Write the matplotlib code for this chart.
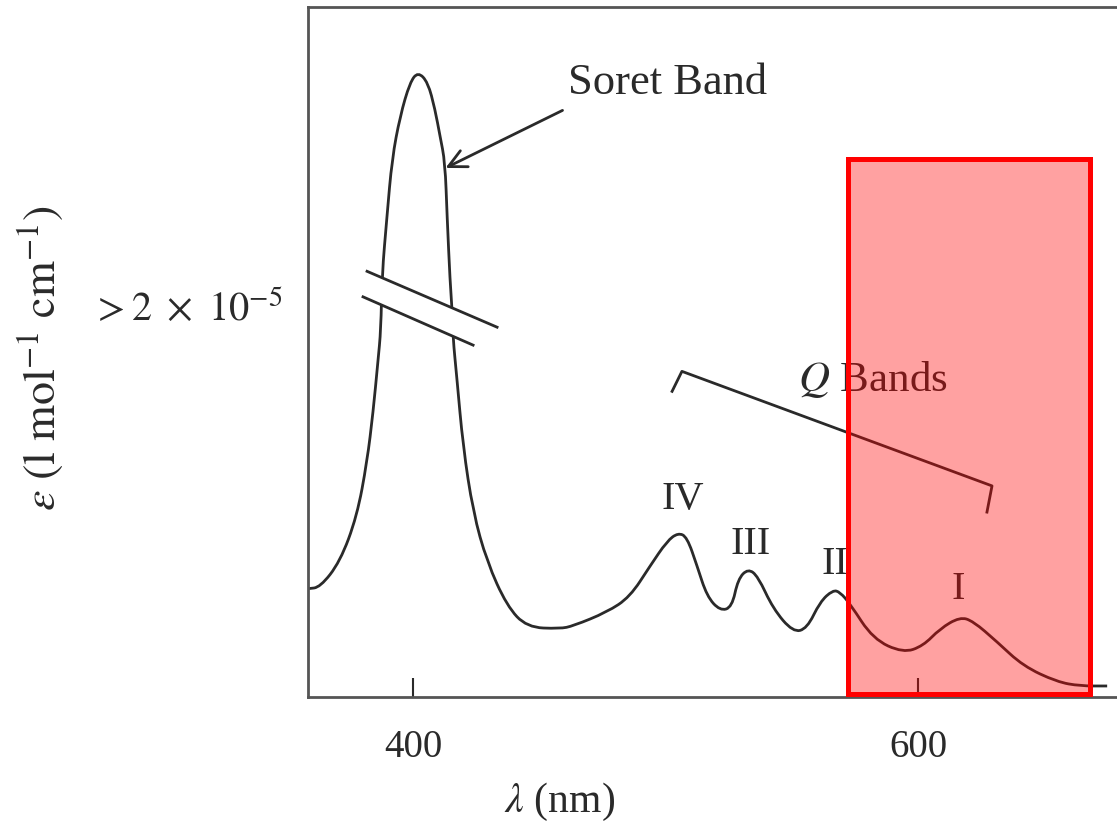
import numpy as np
import matplotlib.pyplot as plt
from matplotlib.patches import Rectangle, Polygon, PathPatch
from matplotlib.path import Path

plt.rcParams['font.family'] = ['Liberation Serif', 'DejaVu Serif']
plt.rcParams['mathtext.fontset'] = 'stix'

# spectre (lambda en nm, epsilon en unites arbitraires)
lam = [358.4, 363.2, 371.1, 377.8, 381.8, 384.2, 386.1, 387.3, 387.7, 389.7,
       391.7, 394.9, 398.8, 402.0, 405.9, 408.7, 410.7, 412.7, 413.5, 414.7,
       415.4, 415.8, 417.4, 419.8, 423.8, 429.3, 437.2, 445.1, 458.2, 463.4,
       476.8, 485.9, 493.9, 500.6, 505.0, 508.5, 512.5, 516.4, 521.6, 526.3,
       528.7, 532.7, 536.6, 542.6, 550.5, 556.0, 561.2, 566.3, 569.1, 573.1,
       582.2, 594.1, 602.0, 608.7, 616.6, 621.8, 631.3, 641.6, 655.0, 664.2,
       674.9]
eps = [15.7, 15.9, 19.6, 26.2, 34.1, 41.3, 48.6, 53.3, 61.0, 69.7,
       78.0, 84.2, 89.1, 90.6, 89.1, 85.2, 81.3, 77.5, 69.7, 60.1,
       56.7, 52.2, 46.1, 36.4, 26.8, 19.6, 13.2, 10.1, 9.9, 10.3,
       12.3, 14.5, 19.0, 22.6, 23.8, 23.2, 19.0, 14.6, 12.5, 13.0,
       17.1, 18.6, 17.5, 12.8, 9.4, 9.9, 13.8, 15.5, 15.2, 13.5,
       8.4, 6.4, 7.4, 9.9, 11.6, 11.0, 8.0, 4.5, 2.2, 1.6,
       1.6]

# coupure d'axe sur la bande de Soret
coupure_haut = ([381.8, 433.3], [61.7, 53.6])
coupure_bas = ([380.2, 423.8], [58.0, 51.0])

# crochet des bandes Q
crochet_x = [502.6, 506.5, 629.3, 627.3]
crochet_y = [44.3, 47.2, 30.6, 26.8]

bandes = ['IV', 'III', 'II', 'I']
bandes_x = [506.9, 533.5, 567.1, 615.8]
bandes_y = [28.7, 22.2, 19.3, 15.7]

# rectangle rouge
rect_x = (572.3, 668.1)
rect_y = (0.43, 78.0)

noir = '#2a2a2a'


def courbe_lisse(x, y):
    # trace lisse : bezier quadratique passant par les milieux
    pts = np.column_stack([x, y])
    verts = [pts[0], (pts[0] + pts[1]) / 2]
    codes = [Path.MOVETO, Path.LINETO]
    for i in range(1, len(pts) - 1):
        verts += [pts[i], (pts[i] + pts[i + 1]) / 2]
        codes += [Path.CURVE3, Path.CURVE3]
    verts.append(pts[-1])
    codes.append(Path.LINETO)
    return Path(verts, codes)


fig = plt.figure(figsize=(11.17, 8.29), dpi=100)
ax = fig.add_axes([0.2757, 0.158, 0.7243, 0.8323])

ax.add_patch(PathPatch(courbe_lisse(lam, eps), facecolor='none', edgecolor=noir,
                       lw=2, zorder=2))

# trou blanc entre les deux traits de coupure
gap = Polygon([(coupure_haut[0][0], coupure_haut[1][0]), (coupure_haut[0][1], coupure_haut[1][1]),
               (coupure_bas[0][1], coupure_bas[1][1]), (coupure_bas[0][0], coupure_bas[1][0])],
              closed=True, facecolor='white', edgecolor='none', zorder=3)
ax.add_patch(gap)
ax.plot(*coupure_haut, color=noir, lw=2, zorder=4)
ax.plot(*coupure_bas, color=noir, lw=2, zorder=4)

ax.annotate('', xy=(411.9, 76.5), xytext=(460.2, 85.2),
            arrowprops=dict(arrowstyle='->', color=noir, lw=2, mutation_scale=32))
ax.text(461.4, 89.1, 'Soret Band', fontsize=32, color=noir, ha='left', va='center')

ax.plot(crochet_x, crochet_y, color=noir, lw=2)
ax.text(582.0, 46.1, r'$Q$ Bands', fontsize=31, color=noir, ha='center', va='center')

for b, bx, by in zip(bandes, bandes_x, bandes_y):
    ax.text(bx, by, b, fontsize=29, color=noir, ha='center', va='center')

ax.add_patch(Rectangle((rect_x[0], rect_y[0]), rect_x[1] - rect_x[0], rect_y[1] - rect_y[0],
                       facecolor=(1, 0, 0, 0.37), edgecolor='#ff0000', lw=3.6, zorder=10))

ax.set_xlim(358.4, 678.8)
ax.set_ylim(0, 100)
ax.set_xticks([400, 600])
ax.set_yticks([57.0])
ax.set_yticklabels([r'$>2\ \times\ 10^{-5}$'])
ax.tick_params(axis='x', direction='in', length=14, width=1.5, colors=noir,
               labelsize=28, pad=22)
ax.tick_params(axis='y', length=0, labelsize=29, pad=18, colors=noir)

ax.spines['right'].set_visible(False)
for s in ['left', 'top', 'bottom']:
    ax.spines[s].set_color('#555555')
    ax.spines[s].set_linewidth(2)

ax.set_xlabel(r'$\lambda$ (nm)', fontsize=30, color=noir)
ax.xaxis.set_label_coords(0.311, -0.12)
ax.set_ylabel(r'$\varepsilon\ (\mathrm{l\ mol}^{-1}\ \mathrm{cm}^{-1})$', fontsize=33, color=noir)
ax.yaxis.set_label_coords(-0.30, 0.493)

plt.savefig('out.png', dpi=100)
